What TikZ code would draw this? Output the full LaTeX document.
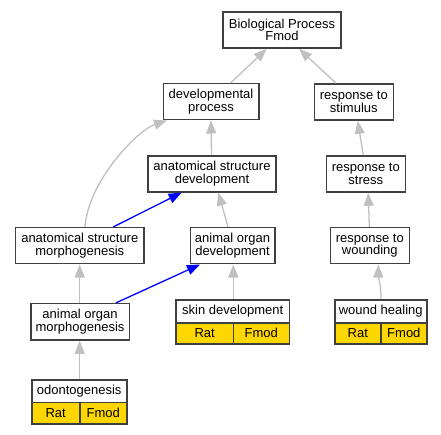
\documentclass[tikz,border=0pt]{standalone}
\usepackage{fontspec}
\setmainfont{Liberation Sans}
\usetikzlibrary{arrows.meta}
\definecolor{bordercol}{HTML}{404040}
\definecolor{edgegray}{HTML}{C0C0C0}
\definecolor{cellyellow}{HTML}{FFD700}
\tikzset{
  termbox/.style={draw=bordercol, line width=1.6pt, fill=white, inner sep=0pt, align=center,
    font=\fontsize{13}{12.5}\selectfont, minimum height=36pt},
  titlebox/.style={draw=bordercol, line width=1.6pt, fill=white, inner sep=0pt,
    font=\fontsize{13}{12.5}\selectfont},
  cellbox/.style={draw=bordercol, line width=1.6pt, fill=cellyellow, inner sep=0pt,
    font=\fontsize{13}{12.5}\selectfont},
  isa/.style={draw=edgegray, line width=1.3pt, -{Triangle[length=13pt,width=10pt]}},
  partof/.style={draw=blue, line width=1.3pt, -{Triangle[length=13pt,width=10pt]}},
}
\begin{document}
\begin{tikzpicture}[x=1pt,y=-1pt]
\useasboundingbox (0,0) rectangle (441,435);
% plain term nodes
\node[termbox, minimum width=118pt] (bp) at (282,30) {Biological Process\\Fmod};
\node[termbox, minimum width=95.4pt] (dev) at (211,101.7) {developmental\\process};
\node[termbox, minimum width=79pt] (stim) at (353.8,102) {response to\\stimulus};
\node[termbox, minimum width=128pt] (asd) at (212,173.8) {anatomical structure\\development};
\node[termbox, minimum width=79pt] (stress) at (365.8,174) {response to\\stress};
\node[termbox, minimum width=128.3pt] (asm) at (79.8,245.7) {anatomical structure\\morphogenesis};
\node[termbox, minimum width=84.4pt] (aod) at (232.5,245.7) {animal organ\\development};
\node[termbox, minimum width=79pt] (wound) at (369.8,245.7) {response to\\wounding};
\node[termbox, minimum width=98.6pt, minimum height=36.3pt] (aom) at (80,321.8) {animal organ\\morphogenesis};
% annotated term nodes
\node[titlebox, minimum width=113.3pt, minimum height=23pt] (skin) at (232.7,311.2) {skin development};
\node[cellbox, minimum width=57.3pt, minimum height=21.3pt] (skinrat) at (204.65,333.35) {Rat};
\node[cellbox, minimum width=56pt, minimum height=21.3pt] (skinfmod) at (261.3,333.35) {Fmod};
\node[titlebox, minimum width=92pt, minimum height=23pt] (heal) at (380.7,311.2) {wound healing};
\node[cellbox, minimum width=46.3pt, minimum height=21.3pt] (healrat) at (357.85,333.35) {Rat};
\node[cellbox, minimum width=45.7pt, minimum height=21.3pt] (healfmod) at (403.85,333.35) {Fmod};
\node[titlebox, minimum width=95pt, minimum height=22.6pt] (odo) at (79.2,391) {odontogenesis};
\node[cellbox, minimum width=48pt, minimum height=21.7pt] (odorat) at (55.7,413.15) {Rat};
\node[cellbox, minimum width=47pt, minimum height=21.7pt] (odofmod) at (103.2,413.15) {Fmod};
% edges
\draw[isa] ([xshift=19.7pt]dev.north) -- ([xshift=-15.3pt]bp.south);
\draw[isa] ([xshift=-17.8pt]stim.north) -- ([xshift=17pt]bp.south);
\draw[isa] ([xshift=-0.5pt]asd.north) -- (dev.south);
\draw[isa] ([xshift=-2.5pt]stress.north) -- ([xshift=3.9pt]stim.south);
\draw[isa] ([xshift=5.2pt]asm.north) .. controls +(3,-45) and +(-30,10) .. ([xshift=4.4pt]dev.south west);
\draw[partof] ([xshift=33.5pt]asm.north) -- ([xshift=-30.3pt]asd.south);
\draw[isa] ([xshift=-4.5pt]aod.north) -- ([xshift=6.3pt]asd.south);
\draw[isa] ([xshift=-0.5pt]wound.north) -- ([xshift=2.5pt]stress.south);
\draw[isa] ([xshift=-0.3pt]aom.north) -- ([xshift=-0.1pt]asm.south);
\draw[partof] ([xshift=36pt]aom.north) -- ([xshift=-32.5pt]aod.south);
\draw[isa] ([xshift=0.6pt]skin.north) -- ([xshift=0.8pt]aod.south);
\draw[isa] ([xshift=0.3pt]heal.north) .. controls +(0,-15) and +(0,12) .. ([xshift=8.5pt]wound.south);
\draw[isa] ([xshift=0.5pt]odo.north) -- ([xshift=-0.3pt]aom.south);
\end{tikzpicture}
\end{document}
